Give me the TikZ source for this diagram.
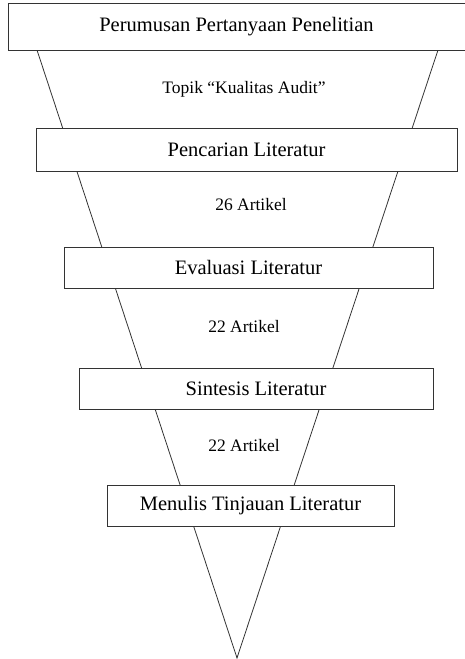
\documentclass[tikz,border=0pt]{standalone}
\usepackage{fontspec}
\setmainfont{Liberation Serif}
\usetikzlibrary{positioning,calc}

\begin{document}
\begin{tikzpicture}[x=1pt,y=1pt,line width=0.8pt,
    stage/.style={draw=black!80, fill=white, inner sep=0pt, font=\fontsize{20.5}{23}\selectfont},
    count/.style={inner sep=0pt, font=\fontsize{17.5}{20}\selectfont}]
    \useasboundingbox (0,0) rectangle (465,-659);

    % the funnel behind the boxes
    \coordinate (tl)   at (37,-50);
    \coordinate (tr)   at (438,-50);
    \coordinate (apex) at (237,-658);
    \draw[black!80] (tl) -- (apex) -- (tr);

    \node[stage, minimum width=457pt, minimum height=47pt] (rumus)  at (236.5,-26.5) {Perumusan Pertanyaan Penelitian};
    \node[stage, minimum width=421pt, minimum height=43pt] (cari)   at (246.5,-149.5) {Pencarian Literatur};
    \node[stage, minimum width=369pt, minimum height=41pt] (eval)   at (248.5,-267.5) {Evaluasi Literatur};
    \node[stage, minimum width=354pt, minimum height=41pt] (sintes) at (256,-388.5)   {Sintesis Literatur};
    \node[stage, minimum width=287pt, minimum height=41pt] (tulis)  at (250.5,-505.5) {Menulis Tinjauan Literatur};

    \node[count] (topik) at (244,-89)  {Topik “Kualitas Audit”};
    \node[count] (n26)   at (251,-205) {26 Artikel};
    \node[count] (n22a)  at (244,-327) {22 Artikel};
    \node[count] (n22b)  at (244,-446) {22 Artikel};
\end{tikzpicture}
\end{document}
